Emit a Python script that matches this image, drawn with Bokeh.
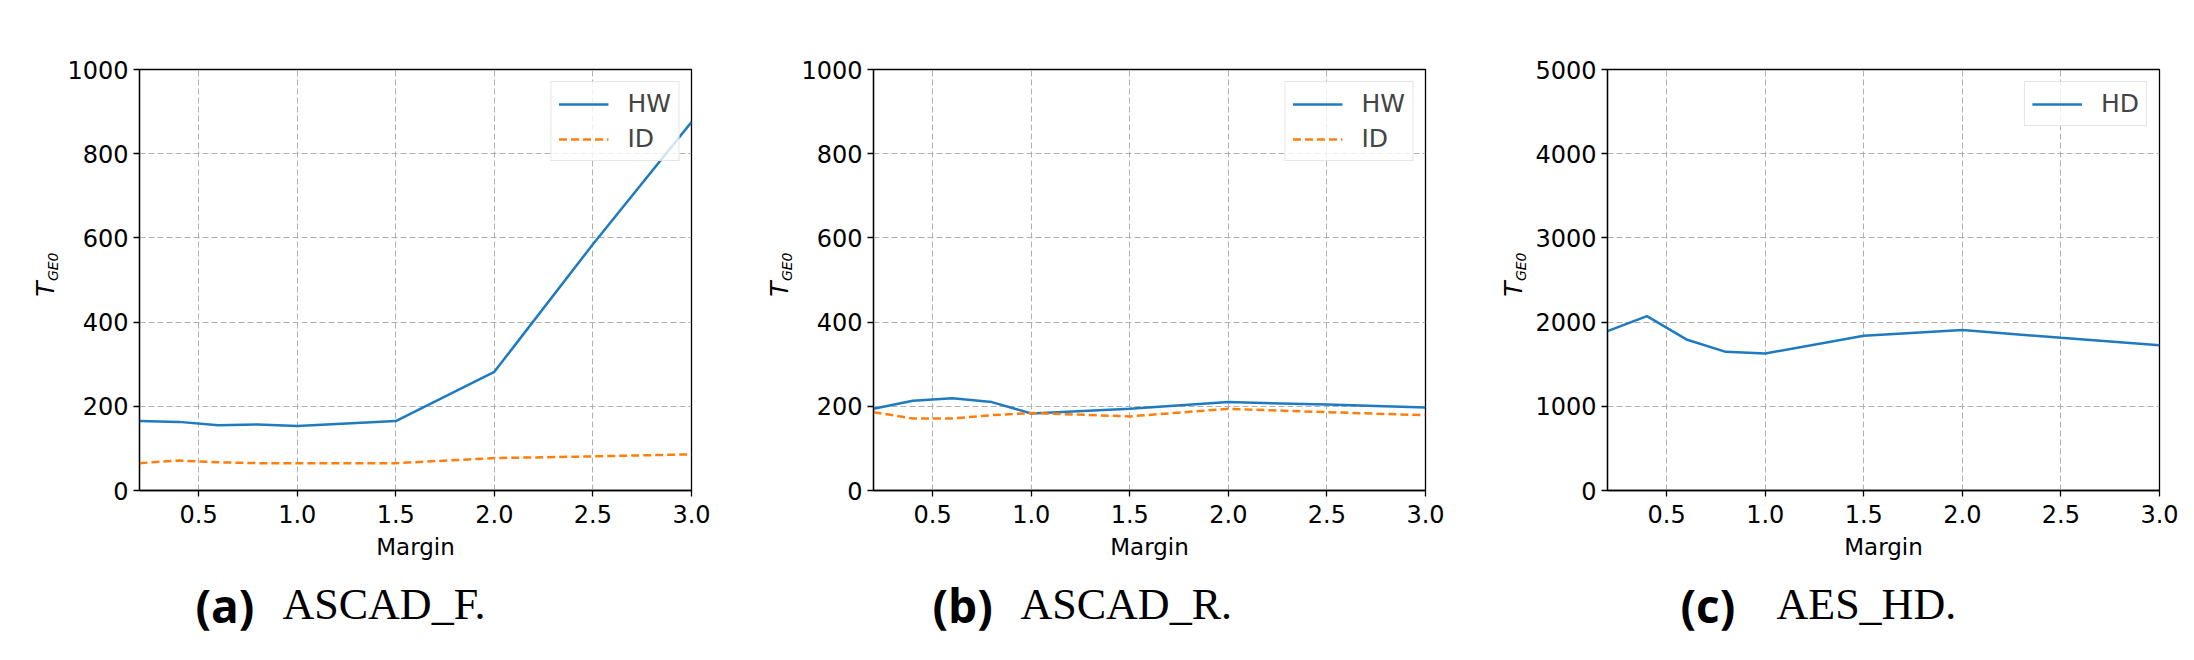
import math
from bokeh.plotting import figure
from bokeh.models import Range1d, FixedTicker
from bokeh.layouts import row, column
from bokeh.core.properties import value
from bokeh.embed import file_html
from bokeh.resources import INLINE

# ---- data ----
MARGIN = [0.2, 0.4, 0.6, 0.8, 1.0, 1.5, 2.0, 2.5, 3.0]
ASCAD_F_HW = [165, 163, 155, 157, 153, 165, 282, 585, 875]
ASCAD_F_ID = [65, 71, 67, 65, 65, 65, 77, 81, 86]
ASCAD_R_HW = [194, 213, 219, 210, 183, 194, 210, 204, 197]
ASCAD_R_ID = [186, 171, 171, 179, 184, 176, 194, 186, 179]
AES_HD_HD = [1893, 2071, 1794, 1647, 1627, 1837, 1905, 1813, 1726]

X_TICKS = [0.5, 1.0, 1.5, 2.0, 2.5, 3.0]
X_TICK_LABELS = ["0.5", "1.0", "1.5", "2.0", "2.5", "3.0"]
Y_TICKS_1K = [0, 200, 400, 600, 800, 1000]
Y_TICK_LABELS_1K = ["0", "200", "400", "600", "800", "1000"]
Y_TICKS_5K = [0, 1000, 2000, 3000, 4000, 5000]
Y_TICK_LABELS_5K = ["0", "1000", "2000", "3000", "4000", "5000"]
X_LABEL = "Margin"
Y_LABEL_MAIN = "T"
Y_LABEL_SUB = "GE0"
CAPTION_TAGS = ["(a)", "(b)", "(c)"]
CAPTION_NAMES = ["ASCAD_F.", "ASCAD_R.", "AES_HD."]

BLUE = "#1f7bbf"
ORANGE = "#ff7f0e"
FONT = "DejaVu Sans"

X0, X1 = 0.2, 3.0
FW, FH = 552, 421
TOP = 69
MAIN_H = 565
YLAB_W = 62
LEFT_B = 77
RIGHT_B = [43, 43, 24]
CAP_H = 93


def blank_fig(w, h):
    f = figure(width=w, height=h, x_range=Range1d(0, w), y_range=Range1d(0, h),
               x_axis_location=None, y_axis_location=None,
               min_border=0, output_backend="svg", toolbar_location=None)
    f.grid.visible = False
    f.outline_line_color = None
    f.background_fill_color = "white"
    f.border_fill_color = "white"
    return f


def ylabel_fig():
    f = blank_fig(YLAB_W, MAIN_H)
    # T (rotated, reading upward), then the subscript GE0
    f.text(x=[44.5], y=[MAIN_H - 305], text=[Y_LABEL_MAIN], angle=math.pi / 2,
           text_font=value(FONT), text_font_style="italic", text_font_size="25px",
           text_align="left", text_baseline="middle", text_color="black")
    f.text(x=[52.2], y=[MAIN_H - 284], text=[Y_LABEL_SUB], angle=math.pi / 2,
           text_font=value(FONT), text_font_style="italic", text_font_size="14px",
           text_align="left", text_baseline="middle", text_color="black")
    return f


def make_panel(series, yticks, ylabels, right_border):
    p = figure(frame_width=FW, frame_height=FH,
               min_border_left=LEFT_B, min_border_right=right_border,
               min_border_top=TOP, min_border_bottom=MAIN_H - TOP - FH,
               x_range=Range1d(X0, X1), y_range=Range1d(yticks[0], yticks[-1]),
               output_backend="svg", toolbar_location=None)
    p.background_fill_color = "white"
    p.border_fill_color = "white"
    p.outline_line_color = "black"
    p.outline_line_width = 1.3

    for lbl, ys, color, dash in series:
        p.line(MARGIN, ys, line_color=color, line_width=2.5, line_dash=dash,
               legend_label=lbl)

    p.xaxis.ticker = FixedTicker(ticks=X_TICKS)
    p.xaxis.major_label_overrides = dict(zip(X_TICKS, X_TICK_LABELS))
    p.yaxis.ticker = FixedTicker(ticks=yticks)
    p.yaxis.major_label_overrides = dict(zip(yticks, ylabels))
    for ax in (p.xaxis[0], p.yaxis[0]):
        ax.axis_line_color = "black"
        ax.axis_line_width = 1.3
        ax.major_tick_line_color = "black"
        ax.major_tick_line_width = 1.3
        ax.major_tick_out = 6
        ax.major_tick_in = 0
        ax.minor_tick_line_color = None
        ax.major_label_text_font = FONT
        ax.major_label_text_font_size = "24px"
        ax.major_label_text_color = "black"
    p.xaxis.major_label_standoff = 8
    p.yaxis.major_label_standoff = 5
    p.xaxis.axis_label = X_LABEL
    p.xaxis.axis_label_text_font = FONT
    p.xaxis.axis_label_text_font_size = "23px"
    p.xaxis.axis_label_text_font_style = "normal"
    p.xaxis.axis_label_text_color = "black"
    p.xaxis.axis_label_standoff = 8

    p.grid.grid_line_color = "#b0b0b0"
    p.grid.grid_line_dash = "6 3"
    p.grid.grid_line_width = 1

    lg = p.legend[0]
    lg.location = "top_right"
    lg.margin = 12
    lg.padding = 7
    lg.spacing = 6
    lg.glyph_width = 50
    lg.glyph_height = 28
    lg.label_height = 28
    lg.label_standoff = 19
    lg.label_text_font = FONT
    lg.label_text_font_size = "25px"
    lg.border_line_color = "#cccccc"
    lg.border_line_width = 1
    lg.background_fill_color = "white"
    lg.background_fill_alpha = 0.8
    return p


pa = make_panel([("HW", ASCAD_F_HW, BLUE, "solid"), ("ID", ASCAD_F_ID, ORANGE, "8 4")],
                Y_TICKS_1K, Y_TICK_LABELS_1K, RIGHT_B[0])
pb = make_panel([("HW", ASCAD_R_HW, BLUE, "solid"), ("ID", ASCAD_R_ID, ORANGE, "8 4")],
                Y_TICKS_1K, Y_TICK_LABELS_1K, RIGHT_B[1])
pc = make_panel([("HD", AES_HD_HD, BLUE, "solid")],
                Y_TICKS_5K, Y_TICK_LABELS_5K, RIGHT_B[2])

# caption strip
TOTAL_W = 2190
cap = blank_fig(TOTAL_W, CAP_H)
CAP_BASE = CAP_H - (604 - MAIN_H)
TAG_X = [195, 932, 1680]
NAME_X = [282, 1020, 1776]
cap.text(x=TAG_X, y=[CAP_BASE] * 3, text=CAPTION_TAGS, text_font=value("Open Sans"),
         text_font_style="bold", text_font_size="46px", text_align="left",
         text_baseline="alphabetic", text_color="black")
cap.text(x=NAME_X, y=[CAP_BASE] * 3, text=CAPTION_NAMES,
         text_font=value("Liberation Serif"), text_font_size="44px",
         text_align="left", text_baseline="alphabetic", text_color="black")

layout = column(row(ylabel_fig(), pa, ylabel_fig(), pb, ylabel_fig(), pc), cap)
open("out.html", "w").write(file_html(layout, INLINE))
